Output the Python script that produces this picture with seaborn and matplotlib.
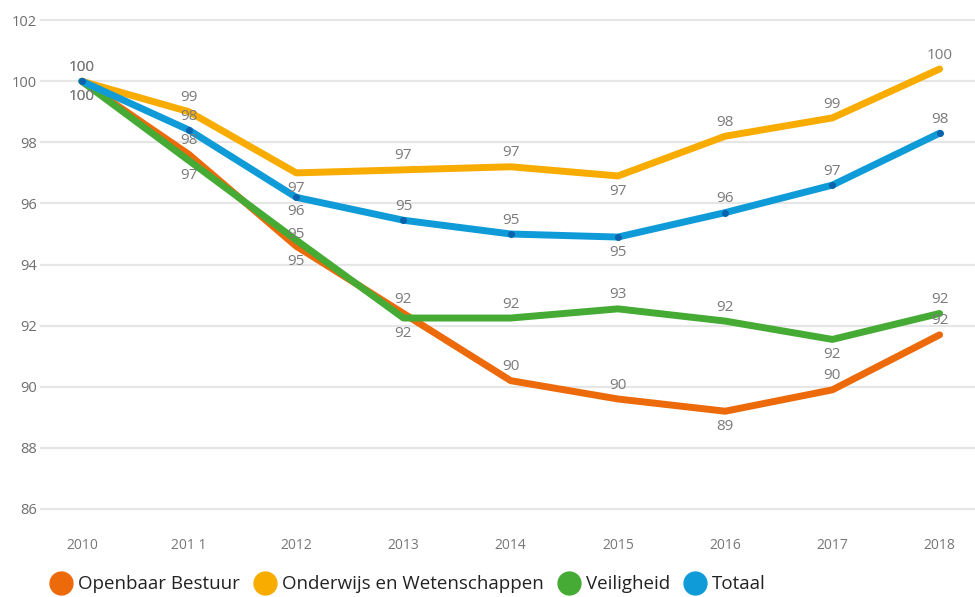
import matplotlib
matplotlib.use("Agg")
import matplotlib.pyplot as plt
import seaborn as sns
import pandas as pd
from matplotlib.lines import Line2D

years = [2010, 2011, 2012, 2013, 2014, 2015, 2016, 2017, 2018]
year_labels = ["2010", "201 1", "2012", "2013", "2014", "2015", "2016", "2017", "2018"]
series_names = ["Openbaar Bestuur", "Onderwijs en Wetenschappen", "Veiligheid", "Totaal"]
openbaar = [100, 97.6, 94.6, 92.4, 90.2, 89.6, 89.2, 89.9, 91.7]
onderwijs = [100, 99.0, 97.0, 97.1, 97.2, 96.9, 98.2, 98.8, 100.4]
veiligheid = [100, 97.4, 94.8, 92.25, 92.25, 92.55, 92.15, 91.55, 92.4]
totaal = [100, 98.4, 96.2, 95.45, 95.0, 94.9, 95.7, 96.6, 98.3]
yticks = [86, 88, 90, 92, 94, 96, 98, 100, 102]

colors = ["#ec6a0a", "#f9ac00", "#45ab35", "#0f9bd7"]
# label offsets in points: positive above, negative below
placements = [
    [-11, 10, -11, 10, 10, 10, -11, 10, 10],
    [10, 10, -11, 10, 10, -11, 10, 10, 10],
    [-11, -11, 4, -11, 10, 10, 10, -11, 10],
    [10, 10, -10, 10, 10, -11, 10, 10, 10],
]

values = [openbaar, onderwijs, veiligheid, totaal]
df = pd.concat([
    pd.DataFrame({"jaar": years, "index": v, "serie": n})
    for n, v in zip(series_names, values)
])

sns.set_theme(style="white")
plt.rcParams["font.family"] = ["Open Sans", "DejaVu Sans"]

fig = plt.figure(figsize=(9.75, 5.97), dpi=100)
ax = fig.add_axes([40 / 975, 1 - 520 / 597, 935 / 975, 506 / 597])

sns.lineplot(data=df, x="jaar", y="index", hue="serie", hue_order=series_names,
             palette=colors, linewidth=5, ax=ax, legend=False, sort=False)
ax.plot(years, totaal, linestyle="none", marker="o", markersize=4,
        color="#0a64ad", zorder=5)

for vals, pl in zip(values, placements):
    for x, v, off in zip(years, vals, pl):
        ax.annotate(f"{round(v):d}", (x, v), xytext=(0, off), textcoords="offset points",
                    ha="center", va="center", fontsize=11, color="#7a7a7a", zorder=6)

ax.set_xlim(2009.61, 2018.33)
ax.set_ylim(85.64, 102.2)
ax.set_yticks(yticks)
ax.set_yticklabels([str(t) for t in yticks])
ax.set_xticks(years)
ax.set_xticklabels(year_labels)
ax.yaxis.grid(True, color="#e6e6e6", linewidth=1.6)
ax.xaxis.grid(False)
for s in ax.spines.values():
    s.set_visible(False)
ax.tick_params(axis="y", length=0, pad=2, labelsize=10.5, labelcolor="#6e6e6e")
ax.tick_params(axis="x", length=0, pad=13, labelsize=10, labelcolor="#777777")
ax.set_xlabel("")
ax.set_ylabel("")

handles = [Line2D([0], [0], marker="o", linestyle="none", markersize=16.5,
                  markerfacecolor=c, markeredgecolor=c) for c in colors]
fig.legend(handles, series_names, loc="lower left", bbox_to_anchor=(42 / 975, -0.006),
           ncol=4, frameon=False, fontsize=13.5, handletextpad=0.3,
           columnspacing=0.75, borderaxespad=0.0, labelcolor="#222222",
           handlelength=1.2)

fig.savefig("out.png", dpi=100)
